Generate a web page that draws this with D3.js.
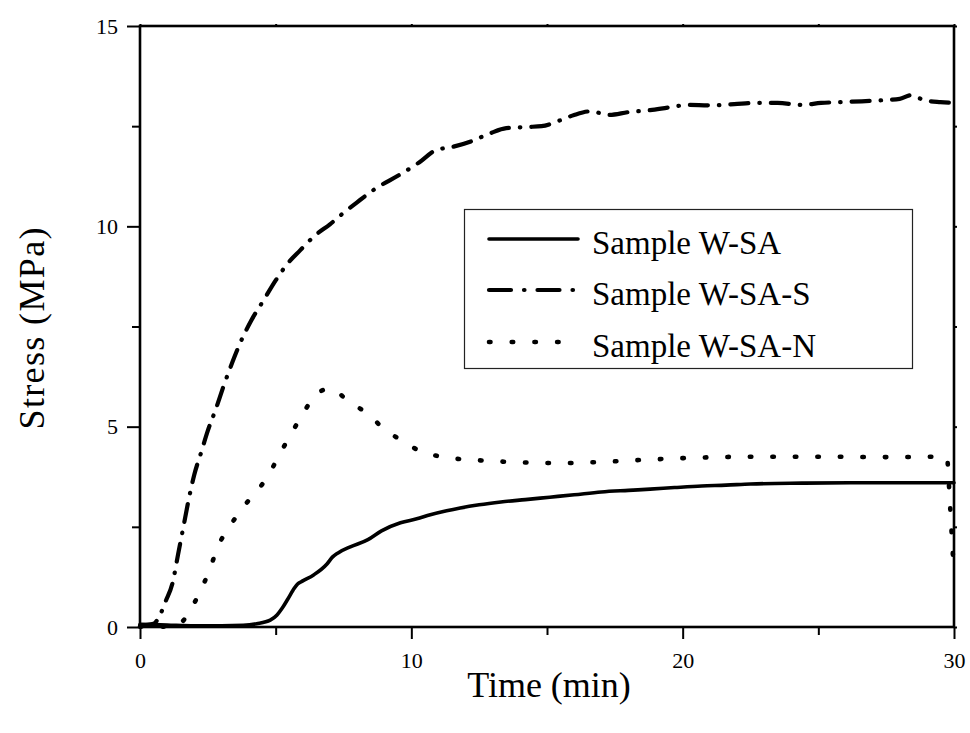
<!DOCTYPE html>
<html>
<head>
<meta charset="utf-8">
<script src="https://cdn.jsdelivr.net/npm/d3@7/dist/d3.min.js"></script>
<style>
  html, body { margin: 0; padding: 0; background: #fff; }
  svg text { font-family: "Liberation Serif", "DejaVu Serif", serif; }
</style>
</head>
<body>
<svg id="chart" width="970" height="733" style="display:block"></svg>
<script>
// Stress (MPa) versus time (min) for three samples
const seriesNames = ["Sample W-SA", "Sample W-SA-S", "Sample W-SA-N"];

const timeWSA   = [0, 1, 2, 3, 3.8, 4.3, 4.8, 5.05, 5.25, 5.45, 5.65, 5.8, 6.0, 6.4, 6.9, 7.1, 7.3, 7.75, 8.4, 8.9, 9.6, 10.2, 10.7, 11.3, 11.8, 12.5, 13.3, 14.2, 15.1, 16, 17, 18, 18.8, 19.7, 20.7, 21.6, 22.5, 24.4, 26.2, 28, 30];
const stressWSA = [0.07, 0.05, 0.03, 0.03, 0.04, 0.08, 0.17, 0.3, 0.48, 0.7, 0.93, 1.07, 1.15, 1.3, 1.58, 1.75, 1.85, 2.0, 2.18, 2.4, 2.6, 2.7, 2.8, 2.9, 2.97, 3.05, 3.12, 3.18, 3.24, 3.3, 3.37, 3.41, 3.44, 3.48, 3.52, 3.54, 3.57, 3.59, 3.6, 3.6, 3.6];

const timeWSAS   = [0, 0.5, 0.7, 0.95, 1.2, 1.4, 1.6, 1.8, 2.0, 2.25, 2.5, 2.8, 3.1, 3.4, 3.7, 4.1, 4.55, 5.0, 5.45, 5.9, 6.5, 7.0, 7.4, 8.0, 8.7, 9.6, 10.3, 10.9, 11.5, 12.2, 12.9, 13.5, 14.3, 14.8, 15.5, 16.0, 16.6, 17.3, 18.0, 18.8, 19.5, 20.2, 21.0, 21.9, 22.7, 23.5, 24.4, 25.1, 25.8, 26.6, 27.4, 28.0, 28.4, 28.9, 29.5, 30];
const stressWSAS = [0.03, 0.08, 0.25, 0.65, 1.1, 1.8, 2.5, 3.2, 3.8, 4.35, 4.9, 5.45, 6.05, 6.6, 7.1, 7.65, 8.15, 8.65, 9.08, 9.4, 9.8, 10.05, 10.28, 10.6, 10.95, 11.3, 11.6, 11.9, 11.98, 12.12, 12.32, 12.45, 12.48, 12.5, 12.65, 12.78, 12.87, 12.78, 12.85, 12.9, 12.97, 13.03, 13.02, 13.05, 13.08, 13.08, 13.03, 13.08, 13.1, 13.12, 13.15, 13.18, 13.27, 13.15, 13.1, 13.08];

const timeWSAN   = [0, 1.0, 1.4, 1.7, 1.96, 2.3, 2.6, 2.9, 3.3, 3.75, 4.25, 4.7, 5.1, 5.45, 5.9, 6.35, 6.7, 7.0, 7.3, 7.6, 8.0, 8.4, 8.9, 9.6, 10.3, 11.2, 12.5, 14.0, 15.5, 17, 18.8, 20.7, 22.5, 25, 27.5, 29.6, 29.75, 29.8, 29.85, 29.9, 29.95, 30];
const stressWSAN = [0.01, 0.01, 0.05, 0.25, 0.55, 1.0, 1.5, 2.05, 2.5, 2.95, 3.35, 3.75, 4.25, 4.68, 5.2, 5.68, 5.9, 5.95, 5.85, 5.68, 5.5, 5.32, 5.0, 4.67, 4.4, 4.24, 4.16, 4.11, 4.09, 4.12, 4.18, 4.23, 4.25, 4.25, 4.24, 4.25, 4.2, 3.7, 3.1, 2.5, 1.9, 1.3];

const xTickLabels = [0, 10, 20, 30];
const yTickLabels = [0, 5, 10, 15];
const xMinorTicks = [5, 15, 25];
const yMinorTicks = [2.5, 7.5, 12.5];

const series = [
  { name: seriesNames[0], t: timeWSA,  s: stressWSA,  dash: null,           legendDash: null,           legendEnd: 578, width: 3.6 },
  { name: seriesNames[1], t: timeWSAS, s: stressWSAS, dash: "18,11,0.5,11", legendDash: "22,13,0.5,13", legendEnd: 578, width: 4.2 },
  { name: seriesNames[2], t: timeWSAN, s: stressWSAN, dash: "1.5,21",       legendDash: "1.5,21.2",     legendEnd: 560, width: 4.6 }
];

const serif = "'Liberation Serif', 'DejaVu Serif', serif";
const svg = d3.select("#chart");
const margin = { left: 140, top: 26, right: 16, bottom: 106 };
const W = 970, H = 733;

const x = d3.scaleLinear().domain([0, 30]).range([margin.left, W - margin.right]);
const y = d3.scaleLinear().domain([0, 15]).range([H - margin.bottom, margin.top]);

// Curves
const line = d3.line()
  .x(d => x(d[0]))
  .y(d => y(d[1]))
  .curve(d3.curveMonotoneX);

const plot = svg.append("g");
series.forEach(sr => {
  const pts = sr.t.map((t, i) => [t, sr.s[i]]);
  const p = plot.append("path")
    .datum(pts)
    .attr("d", line)
    .attr("fill", "none")
    .attr("stroke", "#000")
    .attr("stroke-width", sr.width)
    .attr("stroke-linejoin", "round")
    .attr("stroke-linecap", "round");
  if (sr.dash) p.attr("stroke-dasharray", sr.dash);
});

// Axes (bottom / left with labels, major + minor outward ticks)
const axisBottomG = svg.append("g").attr("transform", `translate(0,${y(0)})`)
  .call(d3.axisBottom(x).tickValues(xTickLabels).tickSize(12).tickPadding(13).tickFormat(d3.format("d")));
axisBottomG.append("g").call(d3.axisBottom(x).tickValues(xMinorTicks).tickSize(8).tickFormat(""));

const axisLeftG = svg.append("g").attr("transform", `translate(${x(0)},0)`)
  .call(d3.axisLeft(y).tickValues(yTickLabels).tickSize(13).tickPadding(9).tickFormat(d3.format("d")));
axisLeftG.append("g").call(d3.axisLeft(y).tickValues(yMinorTicks).tickSize(8).tickFormat(""));

// Mirror ticks on top and right
const axisTopG = svg.append("g").attr("transform", `translate(0,${y(15)})`)
  .call(d3.axisTop(x).tickValues(xTickLabels.concat(xMinorTicks)).tickSize(2).tickFormat(""));
const axisRightG = svg.append("g").attr("transform", `translate(${x(30)},0)`)
  .call(d3.axisRight(y).tickValues(yTickLabels.concat(yMinorTicks)).tickSize(3).tickFormat(""));

[axisBottomG, axisLeftG, axisTopG, axisRightG].forEach(g => {
  g.attr("font-family", serif).attr("font-size", 22);
  g.selectAll(".domain").remove();
  g.selectAll("line").attr("stroke", "#000").attr("stroke-width", 2);
  g.selectAll("text").attr("fill", "#000").attr("font-family", serif).attr("font-size", 22);
});

// Frame
svg.append("rect")
  .attr("x", x(0)).attr("y", y(15))
  .attr("width", x(30) - x(0)).attr("height", y(0) - y(15))
  .attr("fill", "none").attr("stroke", "#000").attr("stroke-width", 2.6);

// Axis titles
svg.append("text")
  .attr("x", (x(0) + x(30)) / 2 + 2).attr("y", 697)
  .attr("text-anchor", "middle")
  .attr("font-family", serif)
  .attr("font-size", 36)
  .text("Time (min)");

svg.append("text")
  .attr("transform", `translate(44,${(y(0) + y(15)) / 2 + 2}) rotate(-90)`)
  .attr("text-anchor", "middle")
  .attr("font-family", serif)
  .attr("font-size", 36)
  .attr("textLength", 202)
  .text("Stress (MPa)");

// Legend
const legend = svg.append("g");
legend.append("rect")
  .attr("x", 464.5).attr("y", 209.5).attr("width", 448).attr("height", 159)
  .attr("fill", "#fff").attr("stroke", "#222").attr("stroke-width", 1.2);

const rowY = [239, 290, 342];
series.forEach((sr, i) => {
  const l = legend.append("line")
    .attr("x1", 489).attr("x2", sr.legendEnd)
    .attr("y1", rowY[i]).attr("y2", rowY[i])
    .attr("stroke", "#000").attr("stroke-width", sr.width)
    .attr("stroke-linecap", "round");
  if (sr.legendDash) l.attr("stroke-dasharray", sr.legendDash);
  legend.append("text")
    .attr("x", 592).attr("y", rowY[i] + 15)
    .attr("font-family", serif)
    .attr("font-size", 33)
    .text(sr.name);
});
</script>
</body>
</html>
